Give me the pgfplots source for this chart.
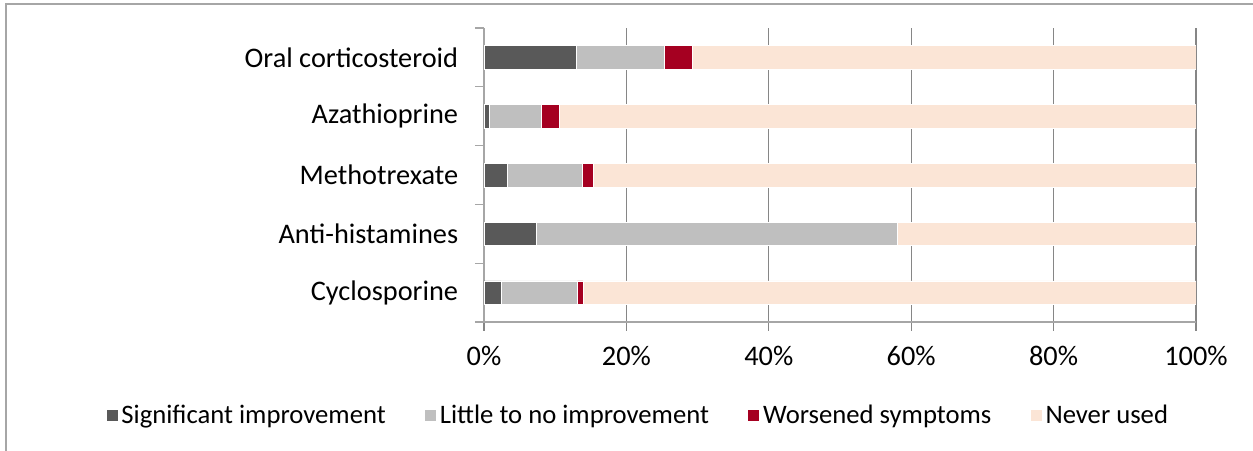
\documentclass[border=0pt]{standalone}
\usepackage{fontspec}
\setmainfont{Carlito}
\usepackage{pgfplots}
\pgfplotsset{compat=1.18}
\definecolor{sigc}{HTML}{595959}
\definecolor{litc}{HTML}{BFBFBF}
\definecolor{worc}{HTML}{A50021}
\definecolor{nevc}{HTML}{FBE5D6}
\definecolor{gridc}{HTML}{868686}
\definecolor{axc}{HTML}{A6A6A6}
\begin{document}
\begin{tikzpicture}[x=0.6pt,y=0.6pt]
\useasboundingbox (0,0) rectangle (1253,451);
\draw[color=axc, line width=1.2pt] (6,0) -- (6,447) -- (1253,447);
\begin{axis}[
    at={(290.4pt,77.4pt)}, anchor=south west,
    scale only axis, width=427.2pt, height=176.4pt,
    xbar stacked, bar width=0.4,
    xmin=0, xmax=100, ymin=-0.5, ymax=4.5,
    xtick={0,20,40,60,80,100},
    xticklabels={0\%,20\%,40\%,60\%,80\%,100\%},
    ytick={0,1,2,3,4},
    yticklabels={Cyclosporine,Anti-histamines,Methotrexate,Azathioprine,Oral corticosteroid},
    minor ytick={-0.5,0.5,1.5,2.5,3.5,4.5},
    major y tick style={draw=none},
    axis x line*=bottom, axis y line*=left,
    axis line style={draw=axc, line width=0.8pt, -},
    xmajorgrids, major grid style={draw=gridc, line width=0.7pt},
    tick align=outside, major tick length=5.4pt, minor tick length=5.4pt,
    x tick style={draw=gridc, line width=0.7pt},
    y tick style={draw=axc, line width=0.8pt},
    tick label style={font=\fontsize{17}{20}\selectfont, black},
    y tick label style={xshift=-6.6pt},
    x tick label style={yshift=-5.5pt},
    legend style={at={(0.217,-0.317)}, anchor=center, legend columns=4, draw=none,
        font=\fontsize{16}{19}\selectfont,
        /tikz/every even column/.append style={column sep=21pt}},
    legend image code/.code={\fill[#1] (0pt,-3.6pt) rectangle (7.2pt,3.6pt);},
]
\addplot[fill=sigc, draw=white, line width=0.3pt] coordinates {(2.4,0) (7.3,1) (3.2,2) (0.8,3) (12.9,4)};
\addplot[fill=litc, draw=white, line width=0.3pt] coordinates {(10.7,0) (50.8,1) (10.6,2) (7.2,3) (12.4,4)};
\addplot[fill=worc, draw=white, line width=0.3pt] coordinates {(0.8,0) (0,1) (1.6,2) (2.5,3) (3.9,4)};
\addplot[fill=nevc, draw=white, line width=0.3pt] coordinates {(86.1,0) (41.9,1) (84.6,2) (89.5,3) (70.8,4)};
\legend{Significant improvement,Little to no improvement,Worsened symptoms,Never used}
\end{axis}
\end{tikzpicture}
\end{document}
